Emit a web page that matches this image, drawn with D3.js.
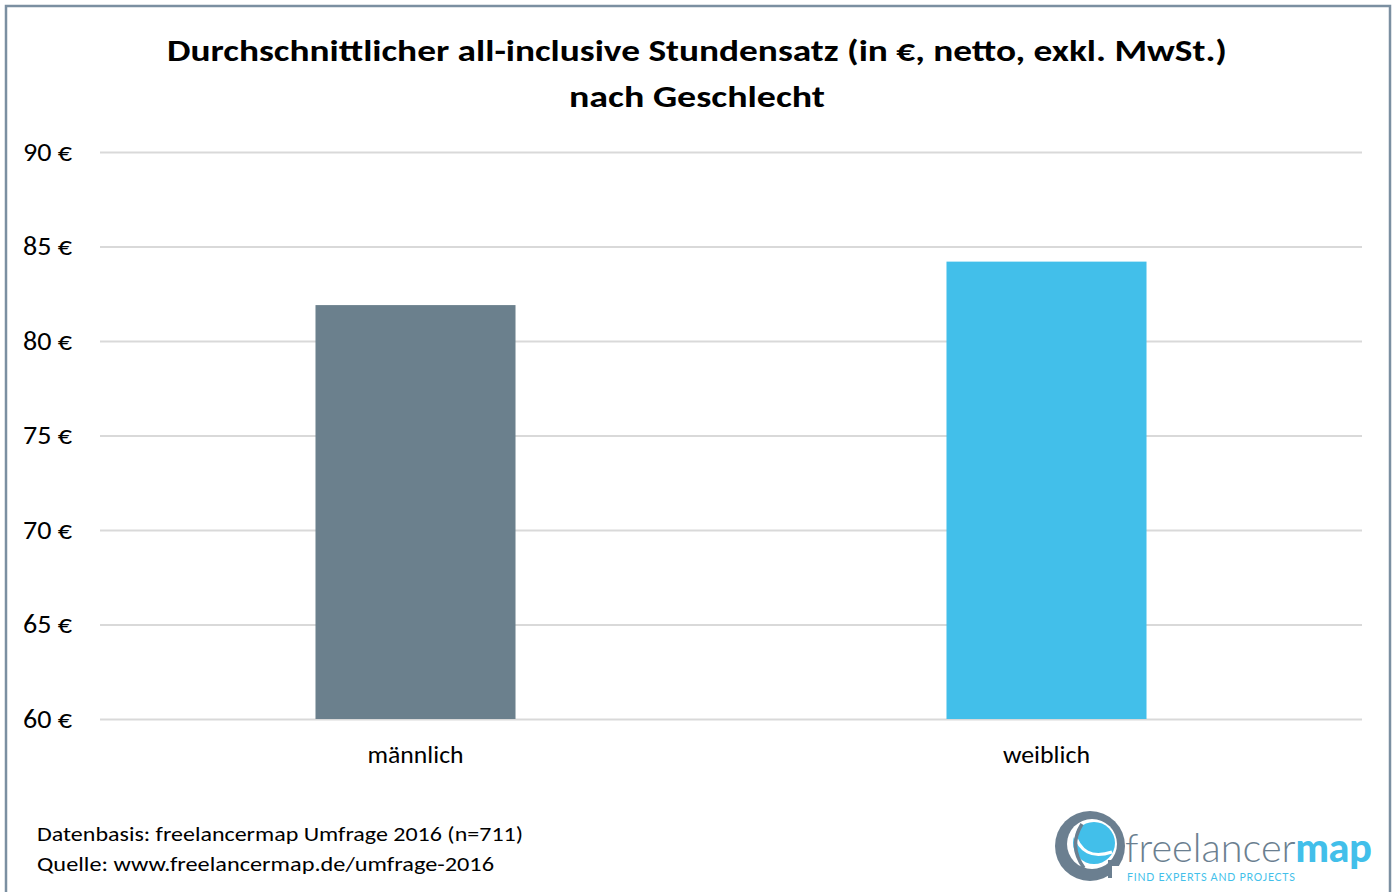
<!DOCTYPE html>
<html>
<head>
<meta charset="utf-8">
<script src="https://cdn.jsdelivr.net/npm/d3@7/dist/d3.min.js"></script>
<style>
  html, body { margin: 0; padding: 0; background: #fff; }
  svg { display: block; }
  text { font-family: Carlito, Calibri, Lato, "Open Sans", sans-serif; }
</style>
</head>
<body>
<svg id="chart" width="1395" height="892"></svg>
<script>
// Average all-inclusive hourly rate by gender (freelancermap survey 2016)
const categories = ["männlich", "weiblich"];
const rates = [81.9, 84.2];
const barColors = ["#6b808d", "#42bfea"];
const yTicks = [60, 65, 70, 75, 80, 85, 90];
const titleLines = [
  "Durchschnittlicher all-inclusive Stundensatz (in €, netto, exkl. MwSt.)",
  "nach Geschlecht"
];
const footnotes = [
  "Datenbasis: freelancermap Umfrage 2016 (n=711)",
  "Quelle: www.freelancermap.de/umfrage-2016"
];

const svg = d3.select("#chart");
const W = 1395, H = 892;
const plot = { left: 100, right: 1362, top: 152, bottom: 719 };
const FONT = "Carlito, Calibri, Lato, 'Open Sans', sans-serif";

// outer frame
svg.append("rect")
  .attr("x", 6).attr("y", 6)
  .attr("width", 1384).attr("height", H + 10)
  .attr("fill", "#fff")
  .attr("stroke", "#7b8fa1").attr("stroke-width", 2.5);

// title, two centred lines stretched to the Calibri widths
const titleWidths = [1060, 256];
titleLines.forEach((line, i) => {
  svg.append("text")
    .attr("x", 697).attr("y", 61 + i * 46)
    .attr("text-anchor", "middle")
    .attr("font-weight", "bold")
    .attr("font-size", 31)
    .attr("fill", "#000")
    .attr("textLength", titleWidths[i])
    .attr("lengthAdjust", "spacingAndGlyphs")
    .text(line);
});

const x = d3.scaleBand()
  .domain(categories)
  .range([plot.left, plot.right])
  .paddingInner(0.683)
  .paddingOuter(0.3415);

const y = d3.scaleLinear()
  .domain([60, 90])
  .range([plot.bottom, plot.top]);

// gridlines and y labels
const yAxis = d3.axisLeft(y)
  .tickValues(yTicks)
  .tickSize(-(plot.right - plot.left))
  .tickPadding(28)
  .tickFormat(d => d + " €");

const yG = svg.append("g")
  .attr("transform", `translate(${plot.left},0)`)
  .call(yAxis);
yG.select(".domain").remove();
yG.selectAll(".tick line").attr("stroke", "#d9d9d9").attr("stroke-width", 2);
yG.selectAll(".tick text")
  .attr("font-size", 26)
  .attr("fill", "#000")
  .attr("textLength", 49)
  .attr("lengthAdjust", "spacingAndGlyphs")
  .style("font-family", FONT);

// bars
svg.append("g").selectAll("rect")
  .data(categories)
  .join("rect")
  .attr("x", d => x(d))
  .attr("width", x.bandwidth())
  .attr("y", (d, i) => y(rates[i]))
  .attr("height", (d, i) => y(60) - y(rates[i]))
  .attr("fill", (d, i) => barColors[i]);

// category labels
const xAxis = d3.axisBottom(x).tickSize(0).tickPadding(26);
const xG = svg.append("g")
  .attr("transform", `translate(0,${plot.bottom})`)
  .call(xAxis);
xG.select(".domain").remove();
xG.selectAll(".tick text")
  .attr("font-size", 25)
  .attr("fill", "#000")
  .attr("textLength", (d, i) => [96, 87][i])
  .attr("lengthAdjust", "spacingAndGlyphs")
  .style("font-family", FONT);

// footnotes
const footWidths = [486, 457];
footnotes.forEach((t, i) => {
  svg.append("text")
    .attr("x", 37).attr("y", 841 + i * 30)
    .attr("font-size", 21)
    .attr("fill", "#000")
    .attr("textLength", footWidths[i])
    .attr("lengthAdjust", "spacingAndGlyphs")
    .text(t);
});

// freelancermap logo
const logo = svg.append("g");
const cx = 1090, cy = 846;
logo.append("circle").attr("cx", cx).attr("cy", cy).attr("r", 35).attr("fill", "#6b7f90");
logo.append("circle").attr("cx", cx + 2).attr("cy", cy - 2).attr("r", 25).attr("fill", "#fff");
logo.append("circle").attr("cx", cx + 4).attr("cy", cy - 3).attr("r", 21).attr("fill", "#42bfea");
// white swooshes across the globe
logo.append("path")
  .attr("d", `M${cx - 16},${cy - 14} Q${cx - 8},${cy + 16} ${cx + 22},${cy + 6}`)
  .attr("fill", "none").attr("stroke", "#fff").attr("stroke-width", 3);
logo.append("path")
  .attr("d", `M${cx - 8},${cy - 22} Q${cx - 22},${cy} ${cx - 6},${cy + 22}`)
  .attr("fill", "none").attr("stroke", "#6b7f90").attr("stroke-width", 3.5);
// notch in the outer ring at the lower right
logo.append("rect").attr("x", cx + 20).attr("y", cy + 20).attr("width", 16).attr("height", 16).attr("fill", "#fff");
logo.append("rect").attr("x", cx + 18).attr("y", cy + 14).attr("width", 4).attr("height", 18).attr("fill", "#6b7f90");

const word = logo.append("text")
  .attr("x", 1125).attr("y", 862)
  .attr("font-size", 40)
  .attr("textLength", 247)
  .attr("lengthAdjust", "spacingAndGlyphs")
  .style("font-family", "Lato, sans-serif");
word.append("tspan").attr("fill", "#6b7f90").attr("font-weight", 300).text("freelancer");
word.append("tspan").attr("fill", "#42bfea").attr("font-weight", 900).text("map");

logo.append("text")
  .attr("x", 1127).attr("y", 881)
  .attr("font-size", 10.5)
  .attr("fill", "#42bfea")
  .attr("textLength", 168)
  .attr("lengthAdjust", "spacing")
  .style("font-family", "Lato, sans-serif")
  .text("FIND EXPERTS AND PROJECTS");
</script>
</body>
</html>
